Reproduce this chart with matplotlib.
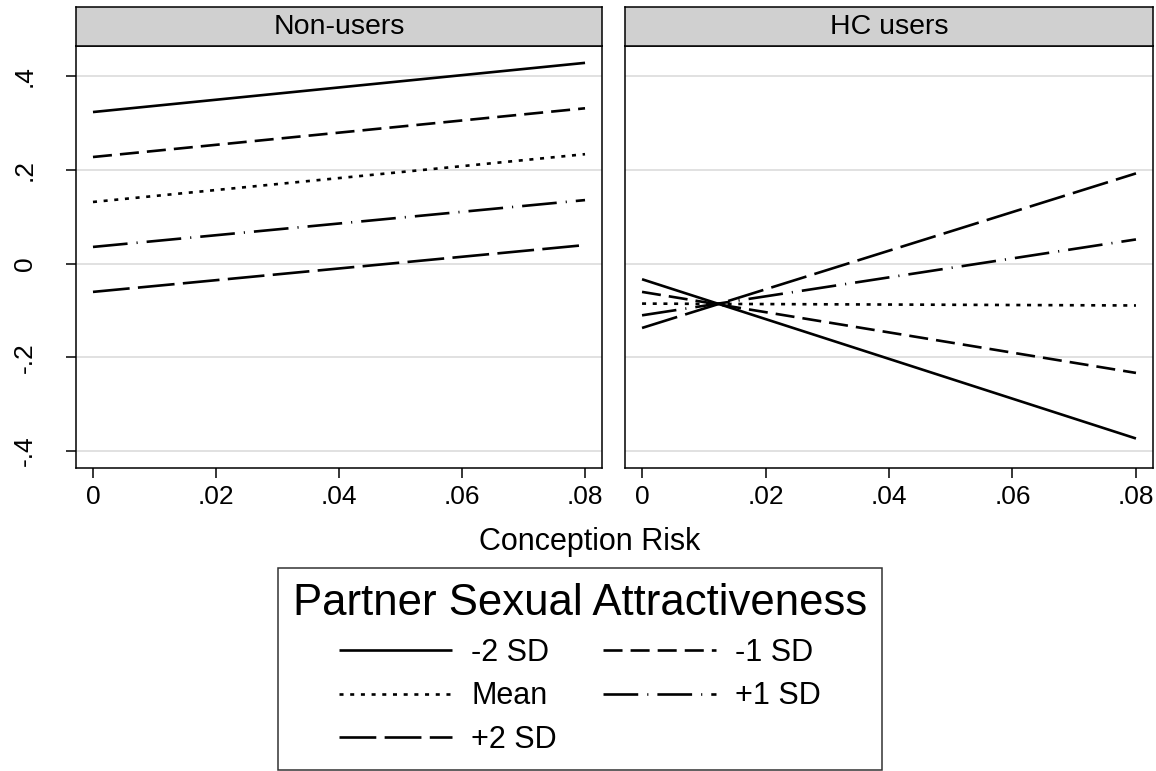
import matplotlib
matplotlib.use('Agg')
import matplotlib.pyplot as plt

plt.rcParams['font.family'] = ['Liberation Sans', 'DejaVu Sans']
plt.rcParams['lines.scale_dashes'] = False

# data (predicted values at the ends of the x range)
risk_points = [0.0, 0.08]
levels = ['-2 SD', '-1 SD', 'Mean', '+1 SD', '+2 SD']
non_users_start = [0.324, 0.228, 0.132, 0.036, -0.060]
non_users_end = [0.429, 0.332, 0.234, 0.136, 0.040]
hc_users_start = [-0.033, -0.060, -0.085, -0.110, -0.137]
hc_users_end = [-0.373, -0.233, -0.089, 0.052, 0.193]

panel_titles = ['Non-users', 'HC users']
x_ticks = [0, 0.02, 0.04, 0.06, 0.08]
x_ticklabels = ['0', '.02', '.04', '.06', '.08']
y_ticks = [-0.4, -0.2, 0, 0.2, 0.4]
y_ticklabels = ['-.4', '-.2', '0', '.2', '.4']

line_styles = ['-', (0, (13.7, 5.8)), (0, (2.9, 4.8)),
               (0, (25, 6.5, 0.8, 6.5)), (0, (26.5, 6))]

W, H = 1156, 771
fig = plt.figure(figsize=(W / 100, H / 100), dpi=100)

# panel boxes in pixels (left, right), shared top/bottom
panels_px = [(76, 602), (625, 1153)]
top_px, bottom_px, strip_top_px = 46, 468, 7

axes = []
for i, (l, r) in enumerate(panels_px):
    ax = fig.add_axes([l / W, 1 - bottom_px / H, (r - l) / W, (bottom_px - top_px) / H])
    strip = fig.add_axes([l / W, 1 - top_px / H, (r - l) / W, (top_px - strip_top_px) / H])
    strip.set_facecolor('#d0d0d0')
    strip.set_xticks([])
    strip.set_yticks([])
    for s in strip.spines.values():
        s.set_linewidth(1.1)
    strip.text(0.5, 0.5, panel_titles[i], ha='center', va='center', fontsize=20.5,
               transform=strip.transAxes)
    axes.append(ax)

series = [(non_users_start, non_users_end), (hc_users_start, hc_users_end)]
handles = []
for ax, (starts, ends) in zip(axes, series):
    for k in range(len(levels)):
        h, = ax.plot(risk_points, [starts[k], ends[k]], color='black', lw=1.9,
                     linestyle=line_styles[k], label=levels[k], solid_capstyle='butt',
                     dash_capstyle='butt')
        if ax is axes[0]:
            handles.append(h)
    ax.set_xlim(-0.00276, 0.08276)
    ax.set_ylim(-0.436, 0.465)
    ax.set_yticks(y_ticks)
    ax.set_xticks(x_ticks)
    ax.set_xticklabels(x_ticklabels, fontsize=19)
    ax.grid(axis='y', color='#dcdcdc', lw=1.2)
    ax.set_axisbelow(True)
    ax.tick_params(axis='x', length=7, width=1.1, pad=5)
    for s in ax.spines.values():
        s.set_linewidth(1.1)

axes[0].set_yticklabels(y_ticklabels, fontsize=19, rotation=90, va='center')
axes[0].tick_params(axis='y', length=7, width=1.1, pad=21)
axes[1].tick_params(axis='y', length=0, labelleft=False)

fig.text(590 / W, 1 - 542 / H, 'Conception Risk', ha='center', va='center', fontsize=22)

# legend rows: -2 SD / -1 SD, Mean / +1 SD, +2 SD (matplotlib fills by column)
order = [0, 2, 4, 1, 3]
leg = fig.legend([handles[i] for i in order], [levels[i] for i in order],
                 loc='center', bbox_to_anchor=(580 / W, 1 - 669 / H), ncol=2,
                 title='Partner Sexual Attractiveness', title_fontsize=31.5, fontsize=22,
                 frameon=True, fancybox=False, edgecolor='#333333', framealpha=1,
                 handlelength=3.7, handletextpad=0.62, columnspacing=1.5,
                 labelspacing=0.44, borderpad=0.5)
leg.get_frame().set_linewidth(1.1)

fig.savefig('out.png', dpi=100)
